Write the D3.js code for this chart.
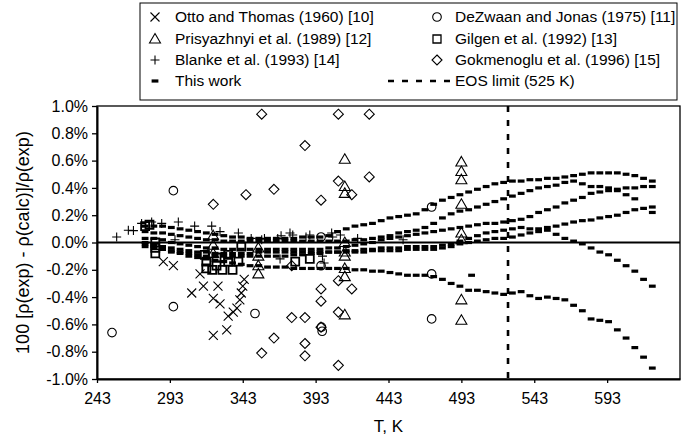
<!DOCTYPE html>
<html>
<head>
<meta charset="utf-8">
<script src="https://cdn.jsdelivr.net/npm/d3@7"></script>
<style>
body { margin: 0; background: #fff; }
svg text { font-family: "Liberation Sans", Arial, sans-serif; fill: #000; }
</style>
</head>
<body>
<div id="chart"></div>
<script>
// tick labels
const xTicks = [243, 293, 343, 393, 443, 493, 543, 593];
const yTicks = [-1.0, -0.8, -0.6, -0.4, -0.2, 0.0, 0.2, 0.4, 0.6, 0.8, 1.0];
const eosLimit = 525;

// literature data: [T (K), deviation (%)]
const otto = [[288.5,-0.14],[295.4,-0.17],[308,-0.37],[313.7,-0.23],[316,-0.32],[322.8,-0.41],[326,-0.32],
  [327.4,-0.45],[333,-0.54],[322.8,-0.68],[332,-0.64],[336.5,-0.51],[339,-0.48],[341,-0.42],[342,-0.37],
  [343,-0.32],[344,-0.27]];
const dezwaan = [[253.3,-0.66],[295.4,0.38],[295.4,-0.47],[351.4,-0.52],[396.7,0.04],[396.7,-0.17],
  [397,-0.62],[397.5,-0.65],[472.6,0.26],[472.6,-0.23],[472.6,-0.56]];
const prisyazhnyi = [[322.7,0.05],[322.7,-0.02],[322.7,-0.08],[353.7,-0.04],[353.7,-0.1],[353.7,-0.17],
  [353.7,-0.23],[413,0.61],[413,0.41],[413,0.36],[413,0.0],[413,-0.07],[413,-0.1],[413,-0.19],[413,-0.25],
  [413,-0.53],[493,0.59],[493,0.52],[493,0.46],[493,0.28],[493,0.07],[493,0.02],[493,-0.42],[493,-0.57]];
const gilgen = [[276,0.12],[279,0.13],[283,0.0],[283,-0.04],[283,-0.08],[317,-0.09],[318,-0.14],[318,-0.19],
  [325,-0.11],[325,-0.17],[322,-0.2],[329,-0.2],[333,-0.14],[333,-0.09],[336,-0.2],[340,-0.14],[342,-0.03],
  [379,-0.14],[389,-0.12]];
const blanke = [[256.5,0.04],[264.5,0.09],[268,0.087],[273.6,0.14],[280.5,0.15],[287.4,0.14],[298.8,0.15],
  [296.5,0.02],[310,0.12],[321.7,0.12],[327.4,0.08],[340,0.07],[348.8,0.03],[356,0.02],[357.9,0.03],
  [367,0.03],[369.3,0.05],[375.4,0.07],[377.3,0.055],[386.4,0.04],[389,0.055],[404,0.07],[404.7,0.04],
  [410,0.055],[421.8,0.03],[453,0.02],[368.6,-0.12],[397.7,-0.1],[398.8,-0.15]];
const gokmenoglu = [[356,0.94],[408.6,0.94],[429.8,0.94],[385.7,0.71],[345.2,0.35],[364.4,0.39],[396.7,0.31],
  [408.6,0.45],[417.8,0.35],[429.8,0.48],[322.8,0.28],[376.6,-0.17],[396.7,-0.34],[396.7,-0.43],[408.6,-0.28],
  [417.8,-0.34],[376.6,-0.55],[385.7,-0.55],[408.6,-0.51],[396.7,-0.62],[364.4,-0.70],[385.7,-0.74],
  [356,-0.81],[385.7,-0.83],[408.6,-0.90]];

// this work: temperatures and one list per curve
const thisWorkT = [276,282,288,294,300,306,312,318,324,330,336,342,348,354,360,366,372,378,384,390,
  396,402,408,414,420,426,432,438,444,450,456,462,468,474,480,486,492,498,504,510,
  516,522,528,534,540,546,552,558,564,570,576,582,588,594,600,606,612,618,624];
const curve1 = [0.12,0.12,0.12,0.11,0.10,0.09,0.08,0.07,0.06,0.05,
  0.04,0.04,0.03,0.03,0.03,0.03,0.03,0.03,0.04,0.04,
  0.04,0.05,0.08,0.10,0.12,0.13,0.14,0.16,0.18,0.19,
  0.20,0.21,0.24,0.28,0.31,0.33,0.35,0.37,0.39,0.41,
  0.43,0.44,0.45,0.45,0.46,0.46,0.47,0.47,0.48,0.49,
  0.50,0.51,0.51,0.51,0.51,0.50,0.49,0.47,0.45];
const curve2 = [0.08,0.07,0.07,0.06,0.05,0.04,0.03,0.02,0.02,0.01,
  0.01,0.01,0.01,0.01,0.01,0.01,0.01,0.01,0.01,0.01,
  0.01,0.01,0.01,0.01,0.02,0.02,0.03,0.04,0.05,0.07,
  0.08,0.09,0.11,0.14,0.18,0.21,0.23,0.24,0.26,0.28,
  0.30,0.32,0.34,0.36,0.38,0.40,0.41,0.42,0.44,0.45,
  0.43,0.41,0.41,0.40,0.38,0.35,0.32,null,null];
const curve3 = [0.03,0.03,0.02,0.00,-0.01,-0.02,-0.03,-0.04,-0.04,-0.05,
  -0.05,-0.05,-0.05,-0.05,-0.05,-0.05,-0.05,-0.05,-0.05,-0.05,
  -0.05,-0.04,-0.04,-0.03,-0.02,-0.01,0.00,0.02,0.03,0.04,
  0.05,0.06,0.07,0.08,0.09,0.10,0.11,0.12,0.13,0.14,
  0.14,0.15,0.16,0.17,0.19,0.22,0.24,0.26,0.29,0.31,
  0.33,0.36,0.37,0.38,0.39,0.40,0.40,0.41,0.41];
const curve4 = [-0.03,-0.04,-0.05,-0.06,-0.07,-0.08,-0.09,-0.10,-0.10,-0.10,
  -0.10,-0.10,-0.10,-0.10,-0.10,-0.10,-0.10,-0.09,-0.09,-0.08,
  -0.08,-0.07,-0.07,-0.06,-0.06,-0.05,-0.05,-0.04,-0.04,-0.04,
  -0.03,-0.03,-0.03,-0.03,-0.02,-0.01,0.01,0.03,0.05,0.07,
  0.08,0.09,0.10,0.11,0.10,0.10,0.11,0.12,0.135,0.15,
  0.16,0.165,0.18,0.19,0.20,0.22,0.24,0.25,0.26];
const curve5 = [0.00,-0.01,-0.03,-0.04,-0.05,-0.06,-0.07,-0.07,-0.08,-0.08,
  -0.08,-0.08,-0.08,-0.07,-0.07,-0.07,-0.07,-0.07,-0.07,-0.07,
  -0.07,-0.07,-0.07,-0.07,-0.07,-0.07,-0.06,-0.06,-0.06,-0.06,
  -0.05,-0.05,-0.05,-0.05,-0.04,-0.03,-0.01,0.00,0.01,0.02,
  0.03,0.03,0.04,0.055,0.07,0.08,0.09,0.06,0.03,0.01,
  -0.01,-0.04,-0.07,-0.09,-0.13,-0.17,-0.21,-0.27,-0.32];
const curve6 = [-0.01,-0.03,-0.05,-0.07,-0.08,-0.10,-0.11,-0.12,-0.13,-0.14,
  -0.15,-0.16,-0.17,-0.17,-0.18,-0.18,-0.18,-0.19,-0.19,-0.19,
  -0.19,-0.19,-0.19,-0.19,-0.20,-0.20,-0.21,-0.21,-0.22,-0.23,
  -0.24,-0.24,-0.24,-0.25,-0.27,-0.30,-0.32,-0.35,-0.35,-0.36,
  -0.37,-0.38,-0.37,-0.36,-0.39,-0.41,-0.40,-0.41,-0.42,-0.46,
  -0.50,-0.56,-0.57,-0.58,-0.64,-0.70,-0.77,-0.84,-0.92];
const thisWorkExtra = [[500,-0.24],[624,0.22]];

const width = 683, height = 439;
const svg = d3.select("#chart").append("svg")
  .attr("width", width).attr("height", height);

const x = d3.scaleLinear().domain([243, 643]).range([97, 680]);
const y = d3.scaleLinear().domain([-1, 1]).range([379, 106]);

// marker shapes
const shapes = {
  cross: "M-4.5,-4.5L4.5,4.5M-4.5,4.5L4.5,-4.5",
  plus: "M-4.5,0L4.5,0M0,-4.5L0,4.5",
  triangle: "M0,-5.5L5.5,4L-5.5,4Z",
  square: "M-4,-4h8v8h-8Z",
  diamond: "M0,-5L5,0L0,5L-5,0Z",
  circle: "M4.3,0A4.3,4.3 0 1,1 -4.3,0A4.3,4.3 0 1,1 4.3,0Z",
  dash: "M-3.4,-1.6h6.8v3.2h-6.8Z"
};

// plot frame
svg.append("rect")
  .attr("x", x(243)).attr("y", y(1))
  .attr("width", x(643) - x(243)).attr("height", y(-1) - y(1))
  .attr("fill", "none").attr("stroke", "#000").attr("stroke-width", 1.3);

// axes
const xAxis = svg.append("g")
  .attr("transform", `translate(0,${y(-1)})`)
  .call(d3.axisBottom(x).tickValues(xTicks).tickSize(4).tickPadding(10).tickSizeOuter(0));
const yAxis = svg.append("g")
  .attr("transform", `translate(${x(243)},0)`)
  .call(d3.axisLeft(y).tickValues(yTicks).tickSize(5).tickPadding(4).tickSizeOuter(0)
    .tickFormat(d => d.toFixed(1) + "%"));
[xAxis, yAxis].forEach(g => {
  g.select(".domain").attr("stroke-width", 2);
  g.selectAll("line").attr("stroke-width", 1.3);
  g.selectAll("text").attr("font-size", 16).attr("font-family", "Liberation Sans, Arial, sans-serif");
});

// zero line
svg.append("line")
  .attr("x1", x(243)).attr("x2", x(643))
  .attr("y1", y(0)).attr("y2", y(0))
  .attr("stroke", "#000").attr("stroke-width", 2);

// EOS limit
svg.append("line")
  .attr("x1", x(eosLimit)).attr("x2", x(eosLimit))
  .attr("y1", y(1)).attr("y2", y(-1))
  .attr("stroke", "#000").attr("stroke-width", 2.6)
  .attr("stroke-dasharray", "6,8");

// this work dashes
const curves = [curve1, curve2, curve3, curve4, curve5, curve6];
const twPoints = [];
curves.forEach(c => c.forEach((v, i) => { if (v !== null) twPoints.push([thisWorkT[i], v]); }));
thisWorkExtra.forEach(p => twPoints.push(p));

function drawSet(data, shape, sw) {
  svg.append("g").selectAll("path").data(data).join("path")
    .attr("transform", d => `translate(${x(d[0])},${y(d[1])})`)
    .attr("d", shapes[shape])
    .attr("fill", shape === "dash" ? "#000" : "none")
    .attr("stroke", shape === "dash" ? "none" : "#000")
    .attr("stroke-width", sw);
}
drawSet(twPoints, "dash", 0);
drawSet(gilgen, "square", 1.8);
drawSet(otto, "cross", 1.1);
drawSet(blanke, "plus", 1.1);
drawSet(prisyazhnyi, "triangle", 1.1);
drawSet(dezwaan, "circle", 1.1);
drawSet(gokmenoglu, "diamond", 1.1);

// axis titles
svg.append("text")
  .attr("x", (x(243) + x(643)) / 2).attr("y", 432)
  .attr("text-anchor", "middle").attr("font-size", 17)
  .text("T, K");
svg.append("text")
  .attr("transform", `translate(29,${(y(1) + y(-1)) / 2}) rotate(-90)`)
  .attr("text-anchor", "middle").attr("font-size", 18)
  .text("100 [ρ(exp) - ρ(calc)]/ρ(exp)");

// legend
const legendLeft = [
  ["cross", "Otto and Thomas (1960) [10]"],
  ["triangle", "Prisyazhnyi et al. (1989) [12]"],
  ["plus", "Blanke et al. (1993) [14]"],
  ["dash", "This work"]
];
const legendRight = [
  ["circle", "DeZwaan and Jonas (1975) [11]"],
  ["square", "Gilgen et al. (1992) [13]"],
  ["diamond", "Gokmenoglu et al. (1996) [15]"],
  ["eos", "EOS limit (525 K)"]
];
const legend = svg.append("g");
legend.append("rect")
  .attr("x", 140).attr("y", 3).attr("width", 537).attr("height", 97)
  .attr("fill", "#fff").attr("stroke", "#000").attr("stroke-width", 1);
const rowY = [17, 39, 60, 81];
function legendCol(items, mx, tx) {
  items.forEach((it, i) => {
    if (it[0] === "eos") {
      legend.append("line")
        .attr("x1", 388).attr("x2", 452).attr("y1", rowY[i]).attr("y2", rowY[i])
        .attr("stroke", "#000").attr("stroke-width", 2.6).attr("stroke-dasharray", "6,8");
    } else {
      legend.append("path")
        .attr("transform", `translate(${mx},${rowY[i]})`)
        .attr("d", shapes[it[0]])
        .attr("fill", it[0] === "dash" ? "#000" : "none")
        .attr("stroke", it[0] === "dash" ? "none" : "#000")
        .attr("stroke-width", it[0] === "square" ? 1.3 : 1.1);
    }
    legend.append("text")
      .attr("x", tx).attr("y", rowY[i]).attr("dy", "0.35em")
      .attr("font-size", 15.5).text(it[1]);
  });
}
legendCol(legendLeft, 155, 175);
legendCol(legendRight, 437, 455);
</script>
</body>
</html>
